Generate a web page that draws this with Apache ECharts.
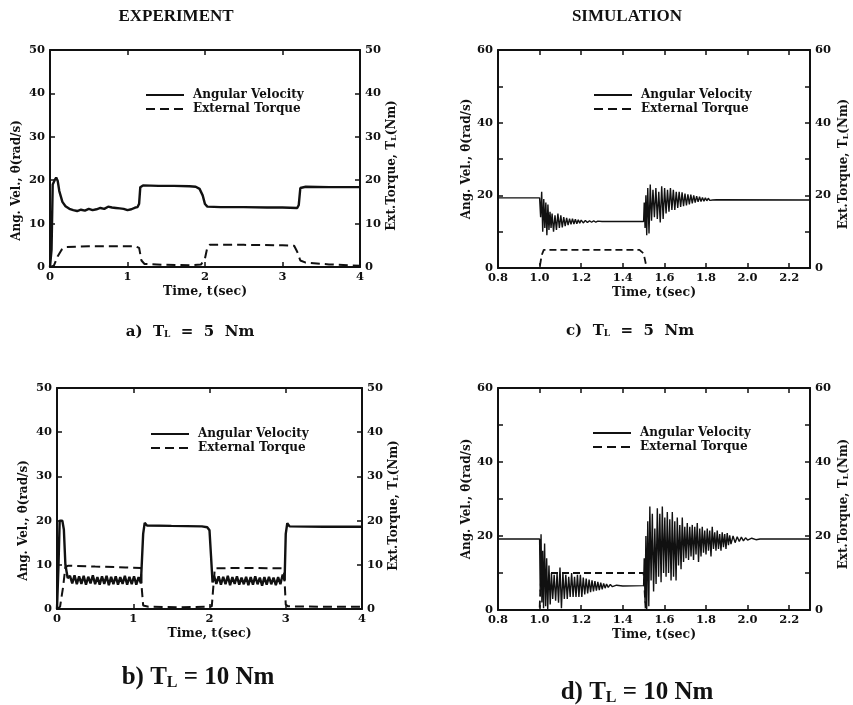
<!DOCTYPE html>
<html>
<head>
<meta charset="utf-8">
<script src="https://cdn.jsdelivr.net/npm/echarts@6/dist/echarts.min.js"></script>
<style>
    html, body { margin: 0; padding: 0; background: #fff; }
    #myChart { width: 853px; height: 705px; }
</style>
</head>
<body>
<div id="myChart"></div>
<script>
    // ---- data: [time (s), value] ----
    // a) experiment, T_L = 5 Nm
    const velA = [[0,0],[0.02,4],[0.035,19],[0.06,20],[0.08,20.6],[0.1,19.8],[0.12,17.5],[0.16,15],[0.2,14],[0.25,13.4],
        [0.3,13.1],[0.35,12.9],[0.4,13.2],[0.45,13],[0.5,13.4],[0.55,13.1],[0.6,13.3],[0.65,13.6],[0.7,13.4],[0.75,13.9],
        [0.8,13.7],[0.85,13.6],[0.9,13.5],[0.95,13.4],[1.0,13.1],[1.05,13.3],[1.1,13.7],[1.13,13.8],[1.15,14.6],[1.165,18.4],
        [1.2,18.8],[1.4,18.7],[1.6,18.7],[1.8,18.6],[1.88,18.5],[1.93,18],[1.97,16.5],[2.0,14.5],[2.03,13.9],[2.2,13.8],
        [2.5,13.8],[2.8,13.7],[3.0,13.7],[3.19,13.6],[3.21,14.3],[3.23,18.2],[3.3,18.5],[3.6,18.4],[4,18.4]]
    const torA = [[0,0],[0.05,0.3],[0.1,2.5],[0.15,4],[0.2,4.6],[0.5,4.8],[0.8,4.8],[1.1,4.8],[1.15,4.4],[1.18,1.5],
        [1.22,0.7],[1.5,0.5],[1.8,0.4],[1.95,0.6],[2.0,2],[2.03,4.5],[2.06,5.1],[2.5,5.1],[3.0,5],[3.15,4.9],[3.19,3.5],
        [3.23,1.5],[3.3,1],[3.6,0.6],[4,0.3]]

    // b) experiment, T_L = 10 Nm
    const velB = [[0,0],[0.02,10],[0.035,20],[0.07,20],[0.09,18],[0.11,10],[0.14,7],
        [0.17,7.5],[0.2,5.8],[0.23,7.6],[0.26,5.6],[0.29,7.4],[0.32,5.7],[0.35,7.5],[0.38,5.5],[0.41,7.3],[0.44,5.8],
        [0.47,7.6],[0.5,5.6],[0.53,7.2],[0.56,5.5],[0.59,7.4],[0.62,5.7],[0.65,7.5],[0.68,5.4],[0.71,7.3],[0.74,5.6],
        [0.77,7.4],[0.8,5.5],[0.83,7.2],[0.86,5.7],[0.89,7.5],[0.92,5.5],[0.95,7.3],[0.98,5.6],[1.01,7.4],[1.04,5.5],
        [1.07,7.2],[1.1,5.8],[1.11,6],[1.13,17],[1.15,19.5],[1.18,18.9],[1.5,18.8],[1.9,18.7],[1.97,18.5],[2.0,17.8],
        [2.02,12],[2.04,6],[2.06,7.5],[2.09,5.7],[2.12,7.4],[2.15,5.5],[2.18,7.3],[2.21,5.6],[2.24,7.5],[2.27,5.4],
        [2.3,7.2],[2.33,5.7],[2.36,7.4],[2.39,5.5],[2.42,7.1],[2.45,5.6],[2.48,7.3],[2.51,5.4],[2.54,7.2],[2.57,5.5],
        [2.6,7.4],[2.63,5.6],[2.66,7.1],[2.69,5.3],[2.72,7.2],[2.75,5.5],[2.78,7.3],[2.81,5.6],[2.84,7.1],[2.87,5.4],
        [2.9,7.2],[2.93,5.6],[2.96,7.8],[2.985,6.5],[3.0,17],[3.02,19.4],[3.05,18.7],[3.5,18.6],[4,18.6]]
    const torB = [[0,0],[0.04,0.5],[0.08,5],[0.11,9.5],[0.15,9.8],[0.5,9.6],[0.9,9.4],[1.1,9.3],[1.11,5],[1.13,0.8],
        [1.2,0.5],[1.6,0.4],[2.0,0.5],[2.03,0.6],[2.05,5],[2.07,9.2],[2.5,9.3],[2.95,9.2],[2.98,8],[3.0,1],[3.03,0.6],
        [3.5,0.5],[4,0.5]]

    // c) simulation, T_L = 5 Nm
    const velC = [[0.8,19.3],[1.0,19.3],[1.005,14],[1.01,21],[1.015,10],[1.02,19],[1.025,11],[1.03,18],[1.035,9],
        [1.04,17.5],[1.045,10.5],[1.05,15.5],[1.055,11],[1.06,15],[1.067,10],[1.074,14.5],[1.081,10.5],[1.088,15],
        [1.095,11],[1.102,14.5],[1.109,11.2],[1.116,14],[1.123,11.5],[1.13,13.8],[1.137,11.8],[1.144,13.6],[1.151,12],
        [1.158,13.6],[1.165,12.1],[1.172,13.4],[1.179,12.2],[1.186,13.3],[1.193,12.3],[1.2,13.2],[1.21,12.4],[1.22,13.1],
        [1.23,12.5],[1.24,13],[1.25,12.6],[1.26,13],[1.27,12.6],[1.28,12.9],[1.3,12.8],[1.5,12.8],
        [1.503,18],[1.507,11],[1.511,20],[1.515,9],[1.52,22],[1.526,9.5],[1.532,23],[1.538,13],[1.545,21.5],[1.552,14],
        [1.559,22],[1.566,13.5],[1.573,21],[1.58,12.5],[1.587,22.5],[1.594,13.5],[1.601,22],[1.608,15],[1.615,21.5],
        [1.622,15.5],[1.629,22],[1.636,16],[1.643,21.5],[1.65,16],[1.657,21],[1.664,16.5],[1.671,21],[1.678,16.8],
        [1.685,20.8],[1.692,17],[1.699,20.5],[1.706,17.2],[1.713,20.3],[1.72,17.5],[1.727,20.2],[1.734,17.8],[1.741,20],
        [1.748,18],[1.755,19.8],[1.762,18.2],[1.769,19.6],[1.776,18.3],[1.783,19.4],[1.79,18.4],[1.797,19.3],[1.804,18.5],
        [1.811,19.2],[1.818,18.6],[1.825,19.1],[1.832,18.7],[1.84,19],[1.85,18.8],[2.3,18.7]]
    const torC = [[0.8,0],[1.0,0],[1.01,3.5],[1.02,5],[1.48,5],[1.5,4],[1.515,0],[2.3,0]]

    // d) simulation, T_L = 10 Nm
    const velD = [[0.8,19.2],[1.0,19.2],[1.003,5],[1.007,20.5],[1.011,2],[1.015,16],[1.019,0.5],[1.024,18],[1.029,1],
        [1.034,14],[1.039,0],[1.045,12],[1.051,1.5],[1.057,10],[1.063,3],[1.07,9.5],[1.077,2.5],[1.084,10],[1.091,2],
        [1.098,11.5],[1.105,0.5],[1.112,10],[1.119,3],[1.126,9.5],[1.133,3],[1.14,9],[1.147,3.5],[1.154,10],[1.161,3.5],
        [1.168,9],[1.175,3.5],[1.182,9.5],[1.189,3.5],[1.196,9.5],[1.203,3.5],[1.21,8.8],[1.217,4.2],[1.224,8.5],
        [1.231,4.5],[1.238,8.2],[1.245,4.8],[1.252,8],[1.259,5],[1.266,7.8],[1.273,5.2],[1.28,7.6],[1.287,5.4],
        [1.294,7.4],[1.301,5.6],[1.308,7.2],[1.315,5.9],[1.322,7],[1.33,6.1],[1.34,6.9],[1.35,6.3],[1.37,6.7],[1.4,6.5],
        [1.5,6.6],
        [1.503,14],[1.507,2],[1.511,20],[1.515,0],[1.52,24],[1.525,1],[1.53,28],[1.536,8],[1.542,26],[1.548,5],
        [1.554,22],[1.56,7],[1.566,27.5],[1.572,9],[1.578,26],[1.584,7.5],[1.59,28],[1.596,10],[1.602,25],[1.608,9],
        [1.614,26.5],[1.62,10],[1.626,24.5],[1.632,8],[1.638,26.5],[1.644,9],[1.65,24],[1.656,8],[1.662,25],[1.668,12],
        [1.674,23],[1.68,11],[1.686,25],[1.692,13],[1.698,22.5],[1.704,14],[1.71,23.5],[1.716,13.5],[1.722,22.5],
        [1.728,14.5],[1.734,23],[1.74,13.5],[1.746,22.5],[1.752,15],[1.758,23.5],[1.764,13],[1.77,22],[1.776,14.5],
        [1.782,22.5],[1.788,15.5],[1.794,21.5],[1.8,15],[1.806,22],[1.812,16],[1.818,21.5],[1.824,14.5],[1.83,22.5],
        [1.836,16.5],[1.842,21],[1.848,16],[1.854,21.5],[1.86,16.5],[1.866,20.5],[1.872,16],[1.878,21],[1.884,17],
        [1.89,20.5],[1.896,16.5],[1.902,20.8],[1.908,17.5],[1.914,20.2],[1.92,17.8],[1.93,20],[1.94,18.2],[1.95,19.8],
        [1.96,18.5],[1.97,19.7],[1.98,18.7],[1.99,19.5],[2.0,18.9],[2.02,19.4],[2.04,19],[2.06,19.2],[2.3,19.2]]
    const torD = [[0.8,0],[1.0,0],[1.003,5],[1.01,10],[1.5,10],[1.505,5],[1.51,0],[2.3,0]]

    const legendNames = ['Angular Velocity', 'External Torque']

    const FONT = 'DejaVu Serif'
    const black = '#111'

    // plot rectangles (px) for a, b, c, d
    const grids = [
        {left: 50, top: 50, width: 310, height: 217},
        {left: 57, top: 388, width: 305, height: 221},
        {left: 498, top: 50, width: 312, height: 218},
        {left: 498, top: 388, width: 312, height: 222}
    ]

    const labelStyle = {fontFamily: FONT, fontWeight: 'bold', fontSize: 11.5, color: black}
    const lineStyle = {color: black, width: 2}
    const tick = {show: true, inside: true, length: 5, lineStyle: {color: black, width: 1.5}}
    const nameStyle = (pad) => ({
        fontFamily: FONT, fontWeight: 'bold', fontSize: 12, color: black, padding: pad,
        rich: {sub: {fontFamily: FONT, fontWeight: 'bold', fontSize: 8, color: black, verticalAlign: 'bottom'}}
    })

    const xAxes = []
    const yAxes = []
    const sim = [false, false, true, true]
    grids.forEach((g, i) => {
        const s = sim[i]
        const xr = s ? {min: 0.8, max: 2.3, interval: 0.2} : {min: 0, max: 4, interval: 1}
        const yr = s ? {min: 0, max: 60, interval: 10} : {min: 0, max: 50, interval: 10}
        const yFmt = s ? (v => (v % 20 === 0 ? String(v) : '')) : (v => String(v))
        xAxes.push({
            gridIndex: i, type: 'value', position: 'bottom', ...xr,
            axisLine: {onZero: false, lineStyle}, axisTick: tick, splitLine: {show: false},
            axisLabel: {...labelStyle, margin: 4, showMaxLabel: !s, formatter: v => (s ? v.toFixed(1) : String(v))},
            name: 'Time, t(sec)', nameLocation: 'middle', nameGap: 18,
            nameTextStyle: {fontFamily: FONT, fontWeight: 'bold', fontSize: 12.5, color: black}
        })
        xAxes.push({
            gridIndex: i, type: 'value', position: 'top', ...xr,
            axisLine: {onZero: false, lineStyle}, axisTick: tick, splitLine: {show: false},
            axisLabel: {show: false}
        })
        yAxes.push({
            gridIndex: i, type: 'value', position: 'left', ...yr,
            axisLine: {show: true, onZero: false, lineStyle}, axisTick: tick, splitLine: {show: false},
            axisLabel: {...labelStyle, margin: 5, formatter: yFmt},
            name: 'Ang. Vel., θ̇(rad/s)', nameLocation: 'middle', nameRotate: 90, nameGap: s ? 25 : 27,
            nameTextStyle: nameStyle(s ? [0, 0, 0, 0] : [0, 44, 0, 0])
        })
        yAxes.push({
            gridIndex: i, type: 'value', position: 'right', ...yr,
            axisLine: {show: true, onZero: false, lineStyle}, axisTick: tick, splitLine: {show: false},
            axisLabel: {...labelStyle, margin: 5, formatter: yFmt},
            name: 'Ext.Torque, T{sub|L}(Nm)', nameLocation: 'middle', nameRotate: 90, nameGap: s ? 28 : 26,
            nameTextStyle: nameStyle(s ? [0, 10, 0, 0] : [0, 14, 0, 0])
        })
    })

    const panels = [[velA, torA], [velB, torB], [velC, torC], [velD, torD]]
    const series = []
    panels.forEach((p, i) => {
        const s = sim[i]
        series.push({
            name: legendNames[0], type: 'line', xAxisIndex: 2 * i, yAxisIndex: 2 * i,
            data: p[0], symbol: 'none', animation: false,
            lineStyle: {color: black, width: s ? 1.4 : 2.4, type: 'solid'}, itemStyle: {color: black}
        })
        series.push({
            name: legendNames[1], type: 'line', xAxisIndex: 2 * i, yAxisIndex: 2 * i + 1,
            data: p[1], symbol: 'none', animation: false,
            lineStyle: {color: black, width: s ? 1.8 : 2, type: s ? [7, 4] : [9, 5]}, itemStyle: {color: black}
        })
    })

    // legends: line sample only, no marker
    const legendPos = [[145, 88], [150, 427], [593, 88], [592, 426]]
    const legend = legendPos.map(p => ({
        left: p[0], top: p[1], orient: 'vertical', padding: 0, itemGap: 0,
        itemWidth: 38, itemHeight: 12, selectedMode: false, data: legendNames,
        itemStyle: {opacity: 0, color: 'rgba(0,0,0,0)', borderWidth: 0},
        textStyle: {fontFamily: FONT, fontWeight: 'bold', fontSize: 12, color: black, lineHeight: 14, padding: [0, 0, 0, 4]}
    }))

    // headings and captions
    const capRich = (size, fam) => ({
        sub: {fontFamily: fam, fontWeight: 'bold', fontSize: Math.round(size * 0.62), fill: black, verticalAlign: 'bottom'}
    })
    const textItem = (x, y, text, size, fam) => ({
        type: 'text', x: x, y: y,
        style: {text: text, fontFamily: fam, fontWeight: 'bold', fontSize: size, fill: black,
            align: 'center', verticalAlign: 'middle', rich: capRich(size, fam)}
    })
    const graphic = [
        textItem(176, 17, 'EXPERIMENT', 17, 'Liberation Serif'),
        textItem(627, 17, 'SIMULATION', 17, 'Liberation Serif'),
        textItem(190, 332, 'a)  T{sub|L}  =  5  Nm', 15, FONT),
        textItem(630, 331, 'c)  T{sub|L}  =  5  Nm', 15, FONT),
        textItem(198, 678, 'b) T{sub|L} = 10 Nm', 25, 'Liberation Serif'),
        textItem(637, 693, 'd) T{sub|L} = 10 Nm', 25, 'Liberation Serif')
    ]

    const option = {
        backgroundColor: '#fff',
        animation: false,
        grid: grids,
        xAxis: xAxes,
        yAxis: yAxes,
        legend: legend,
        series: series,
        graphic: graphic
    }

    let myChart = echarts.init(document.getElementById('myChart'))
    myChart.setOption(option)
</script>
</body>
</html>
